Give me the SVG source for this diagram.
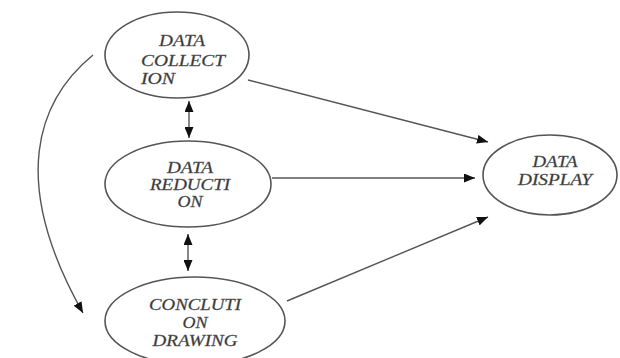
<svg xmlns="http://www.w3.org/2000/svg" width="620" height="358" viewBox="0 0 620 358">
<defs>
<marker id="ah" viewBox="0 0 10 10" refX="10" refY="5" markerWidth="11" markerHeight="9" markerUnits="userSpaceOnUse" orient="auto-start-reverse" preserveAspectRatio="none">
<path d="M0,0 L10,5 L0,10 z" fill="#111"/>
</marker>
<style>
.n{fill:#fff;stroke:#555;stroke-width:1.6}
.t{font-family:"Liberation Serif",serif;font-style:italic;font-size:16px;fill:#333;stroke:#666;stroke-width:0.3;text-anchor:middle}
.c{fill:none;stroke:#555;stroke-width:1.4}
</style>
</defs>
<rect width="620" height="358" fill="#fff"/>
<g id="connectors">
<line class="c" x1="248" y1="80" x2="488" y2="142" marker-end="url(#ah)"/>
<line class="c" x1="272" y1="178" x2="475" y2="178" marker-end="url(#ah)"/>
<line class="c" x1="287" y1="301" x2="488" y2="217" marker-end="url(#ah)"/>
<line class="c" x1="189" y1="101" x2="189" y2="138" marker-start="url(#ah)" marker-end="url(#ah)"/>
<line class="c" x1="188" y1="234" x2="188" y2="271" marker-start="url(#ah)" marker-end="url(#ah)"/>
<path class="c" d="M93,55 C38,100 8,180 83,313" marker-end="url(#ah)"/>
</g>
<g id="collection">
<ellipse class="n" cx="177" cy="55" rx="72" ry="43"/>
<text class="t" x="182" y="46" textLength="46" lengthAdjust="spacingAndGlyphs">DATA</text>
<text class="t" x="183" y="66" textLength="84" lengthAdjust="spacingAndGlyphs">COLLECT</text>
<text class="t" x="141" y="84" style="text-anchor:start" textLength="34" lengthAdjust="spacingAndGlyphs">ION</text>
</g>
<g id="reduction">
<ellipse class="n" cx="188" cy="184" rx="83" ry="43"/>
<text class="t" x="190" y="173" textLength="46" lengthAdjust="spacingAndGlyphs">DATA</text>
<text class="t" x="190" y="190" textLength="80" lengthAdjust="spacingAndGlyphs">REDUCTI</text>
<text class="t" x="190" y="207" textLength="25" lengthAdjust="spacingAndGlyphs">ON</text>
</g>
<g id="conclusion">
<ellipse class="n" cx="195" cy="321" rx="90" ry="44"/>
<text class="t" x="195" y="310" textLength="92" lengthAdjust="spacingAndGlyphs">CONCLUTI</text>
<text class="t" x="195" y="328" textLength="25" lengthAdjust="spacingAndGlyphs">ON</text>
<text class="t" x="195" y="346" textLength="85" lengthAdjust="spacingAndGlyphs">DRAWING</text>
</g>
<g id="display">
<ellipse class="n" cx="550" cy="175" rx="67" ry="40"/>
<text class="t" x="555" y="167" textLength="45" lengthAdjust="spacingAndGlyphs">DATA</text>
<text class="t" x="555" y="185" textLength="74" lengthAdjust="spacingAndGlyphs">DISPLAY</text>
</g>
</svg>
